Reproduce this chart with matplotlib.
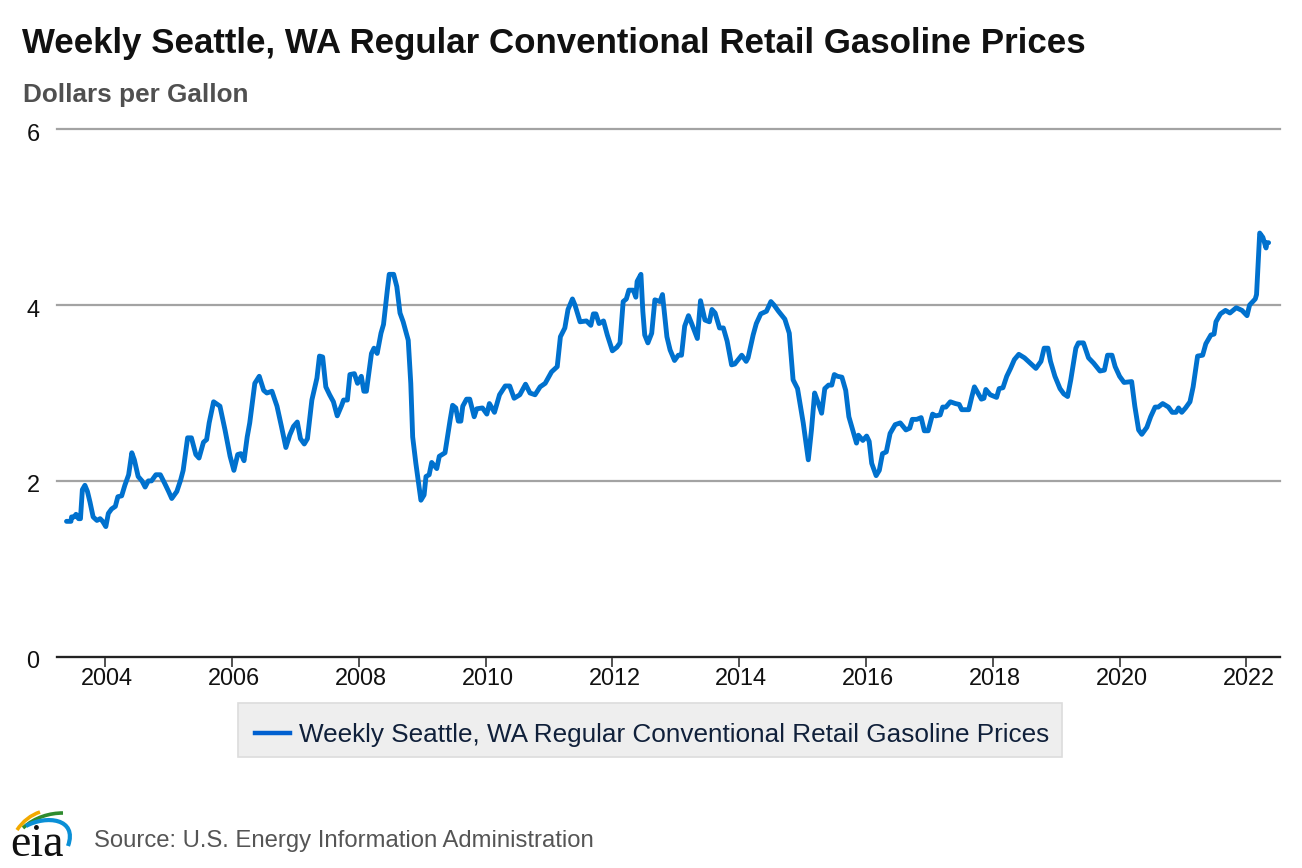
import matplotlib
matplotlib.use('Agg')
import matplotlib.pyplot as plt
from matplotlib.patches import PathPatch, Rectangle
from matplotlib.path import Path
from matplotlib.transforms import ScaledTranslation

plt.rcParams['font.family'] = ['Liberation Sans', 'DejaVu Sans']

TITLE = 'Weekly Seattle, WA Regular Conventional Retail Gasoline Prices'
UNITS = 'Dollars per Gallon'
SOURCE = 'Source: U.S. Energy Information Administration'

x_ticks = list(range(2004, 2023, 2))
y_ticks = [0, 2, 4, 6]

# decimal years
years = [
    2003.39, 2003.46, 2003.47, 2003.51, 2003.54, 2003.58, 2003.61, 2003.64, 2003.68, 2003.72,
    2003.76, 2003.81, 2003.87, 2003.92, 2003.96, 2004.01, 2004.05, 2004.10, 2004.16, 2004.20,
    2004.26, 2004.31, 2004.37, 2004.42, 2004.46, 2004.52, 2004.58, 2004.63, 2004.68, 2004.73,
    2004.80, 2004.87, 2004.94, 2005.00, 2005.05, 2005.13, 2005.19, 2005.23, 2005.30, 2005.36,
    2005.43, 2005.48, 2005.55, 2005.60, 2005.64, 2005.71, 2005.81, 2005.89, 2005.97, 2006.03,
    2006.09, 2006.14, 2006.19, 2006.24, 2006.28, 2006.36, 2006.43, 2006.50, 2006.55, 2006.63,
    2006.71, 2006.78, 2006.85, 2006.91, 2006.97, 2007.03, 2007.08, 2007.14, 2007.19, 2007.26,
    2007.34, 2007.38, 2007.43, 2007.48, 2007.54, 2007.60, 2007.66, 2007.73, 2007.76, 2007.82,
    2007.86, 2007.93, 2007.98, 2008.04, 2008.08, 2008.12, 2008.20, 2008.24, 2008.29, 2008.35,
    2008.39, 2008.45, 2008.48, 2008.55, 2008.60, 2008.65, 2008.70, 2008.78, 2008.82, 2008.85,
    2008.90, 2008.98, 2009.03, 2009.06, 2009.11, 2009.15, 2009.23, 2009.27, 2009.36, 2009.44,
    2009.48, 2009.53, 2009.57, 2009.61, 2009.64, 2009.70, 2009.75, 2009.82, 2009.86, 2009.95,
    2010.02, 2010.06, 2010.14, 2010.22, 2010.31, 2010.38, 2010.45, 2010.54, 2010.63, 2010.70,
    2010.78, 2010.86, 2010.94, 2011.04, 2011.13, 2011.18, 2011.25, 2011.30, 2011.37, 2011.41,
    2011.49, 2011.59, 2011.66, 2011.70, 2011.74, 2011.79, 2011.86, 2011.92, 2012.00, 2012.07,
    2012.12, 2012.17, 2012.22, 2012.26, 2012.33, 2012.37, 2012.39, 2012.45, 2012.48, 2012.51,
    2012.56, 2012.62, 2012.67, 2012.75, 2012.79, 2012.86, 2012.91, 2012.98, 2013.04, 2013.09,
    2013.14, 2013.20, 2013.25, 2013.34, 2013.39, 2013.46, 2013.53, 2013.57, 2013.62, 2013.69,
    2013.75, 2013.81, 2013.88, 2013.93, 2014.04, 2014.11, 2014.14, 2014.22, 2014.27, 2014.34,
    2014.43, 2014.50, 2014.55, 2014.62, 2014.72, 2014.79, 2014.85, 2014.92, 2015.01, 2015.09,
    2015.14, 2015.19, 2015.25, 2015.30, 2015.35, 2015.41, 2015.46, 2015.50, 2015.55, 2015.62,
    2015.68, 2015.73, 2015.79, 2015.85, 2015.88, 2015.95, 2016.01, 2016.05, 2016.09, 2016.16,
    2016.21, 2016.26, 2016.32, 2016.38, 2016.46, 2016.54, 2016.63, 2016.69, 2016.73, 2016.80,
    2016.87, 2016.92, 2016.98, 2017.05, 2017.10, 2017.17, 2017.21, 2017.26, 2017.33, 2017.41,
    2017.47, 2017.51, 2017.62, 2017.67, 2017.71, 2017.75, 2017.82, 2017.86, 2017.89, 2017.96,
    2018.06, 2018.10, 2018.16, 2018.22, 2018.28, 2018.34, 2018.41, 2018.50, 2018.59, 2018.68,
    2018.76, 2018.81, 2018.87, 2018.91, 2018.98, 2019.06, 2019.12, 2019.18, 2019.23, 2019.31,
    2019.35, 2019.43, 2019.51, 2019.59, 2019.69, 2019.76, 2019.81, 2019.88, 2019.93, 2020.00,
    2020.07, 2020.19, 2020.24, 2020.30, 2020.35, 2020.43, 2020.49, 2020.56, 2020.61, 2020.68,
    2020.77, 2020.83, 2020.89, 2020.93, 2020.98, 2021.04, 2021.11, 2021.16, 2021.23, 2021.31,
    2021.36, 2021.44, 2021.49, 2021.52, 2021.59, 2021.67, 2021.74, 2021.84, 2021.93, 2022.01,
    2022.05, 2022.14, 2022.16, 2022.21, 2022.26, 2022.31, 2022.32, 2022.35,
]
prices = [
    1.54, 1.54, 1.59, 1.59, 1.62, 1.57, 1.57, 1.90, 1.95, 1.88,
    1.76, 1.59, 1.55, 1.57, 1.54, 1.48, 1.63, 1.68, 1.71, 1.82,
    1.83, 1.95, 2.07, 2.32, 2.24, 2.05, 2.00, 1.93, 2.00, 2.00,
    2.07, 2.07, 1.97, 1.88, 1.80, 1.88, 2.01, 2.12, 2.49, 2.49,
    2.30, 2.26, 2.44, 2.47, 2.66, 2.90, 2.85, 2.58, 2.28, 2.12,
    2.30, 2.31, 2.23, 2.50, 2.66, 3.11, 3.19, 3.03, 3.00, 3.02,
    2.85, 2.62, 2.38, 2.52, 2.62, 2.67, 2.48, 2.42, 2.48, 2.92,
    3.17, 3.42, 3.41, 3.07, 2.98, 2.90, 2.74, 2.86, 2.92, 2.92,
    3.21, 3.22, 3.11, 3.19, 3.02, 3.02, 3.45, 3.51, 3.45, 3.68,
    3.78, 4.17, 4.35, 4.35, 4.21, 3.91, 3.81, 3.60, 3.11, 2.50,
    2.20, 1.78, 1.84, 2.05, 2.07, 2.21, 2.14, 2.28, 2.32, 2.69,
    2.86, 2.83, 2.68, 2.68, 2.85, 2.93, 2.93, 2.73, 2.82, 2.83,
    2.76, 2.88, 2.78, 2.98, 3.08, 3.08, 2.94, 2.98, 3.10, 3.00,
    2.98, 3.07, 3.11, 3.24, 3.30, 3.64, 3.74, 3.95, 4.07, 4.00,
    3.81, 3.82, 3.77, 3.90, 3.90, 3.79, 3.82, 3.66, 3.48, 3.52,
    3.57, 4.04, 4.07, 4.17, 4.17, 4.09, 4.27, 4.35, 3.93, 3.66,
    3.57, 3.68, 4.06, 4.04, 4.12, 3.64, 3.49, 3.37, 3.43, 3.43,
    3.76, 3.88, 3.79, 3.62, 4.05, 3.83, 3.81, 3.95, 3.91, 3.74,
    3.74, 3.59, 3.32, 3.33, 3.43, 3.36, 3.40, 3.66, 3.79, 3.90,
    3.93, 4.04, 4.00, 3.93, 3.84, 3.68, 3.15, 3.05, 2.66, 2.24,
    2.58, 3.00, 2.88, 2.77, 3.05, 3.09, 3.09, 3.21, 3.19, 3.18,
    3.03, 2.73, 2.58, 2.43, 2.52, 2.46, 2.51, 2.45, 2.20, 2.06,
    2.12, 2.31, 2.33, 2.54, 2.64, 2.66, 2.58, 2.60, 2.70, 2.70,
    2.72, 2.57, 2.57, 2.76, 2.74, 2.75, 2.84, 2.84, 2.90, 2.88,
    2.87, 2.81, 2.81, 2.96, 3.07, 3.02, 2.93, 2.94, 3.04, 2.98,
    2.95, 3.05, 3.06, 3.19, 3.28, 3.38, 3.44, 3.40, 3.34, 3.28,
    3.36, 3.51, 3.51, 3.36, 3.19, 3.05, 2.99, 2.96, 3.15, 3.51,
    3.57, 3.57, 3.40, 3.34, 3.25, 3.26, 3.43, 3.43, 3.30, 3.19,
    3.12, 3.13, 2.85, 2.58, 2.53, 2.61, 2.73, 2.84, 2.84, 2.88,
    2.84, 2.78, 2.78, 2.83, 2.78, 2.83, 2.90, 3.07, 3.42, 3.43,
    3.56, 3.66, 3.67, 3.81, 3.90, 3.94, 3.91, 3.97, 3.94, 3.88,
    4.00, 4.07, 4.12, 4.82, 4.77, 4.65, 4.71, 4.71,
]

W, H = 1302, 868
LINE_BLUE = '#0071ce'


def fx(px):
    return px / W


def fy(py):
    return 1 - py / H


def draw_logo(fig):
    # swooshes above the eia letters
    arcs = [
        ('#f2a900', [(17, 830), (23, 821), (31, 815), (40, 812)], 2.6),
        ('#2e8b2e', [(23, 828), (35, 817), (50, 813), (63, 813)], 2.6),
        ('#0a8fd6', [(26, 826), (46, 815), (78, 818), (68, 846)], 3.0),
    ]
    for color, pts, lw in arcs:
        path = Path([(fx(a), fy(b)) for a, b in pts], [Path.MOVETO, Path.CURVE4, Path.CURVE4, Path.CURVE4])
        fig.add_artist(PathPatch(path, fill=False, edgecolor=color, lw=lw, transform=fig.transFigure))
    fig.text(fx(37.5), fy(855.5), 'eia', family='Liberation Serif', fontsize=33, color='#111111',
             ha='center', va='baseline')


def main():
    fig = plt.figure(figsize=(W / 100, H / 100), dpi=100, facecolor='white')
    ax = fig.add_axes([fx(57), fy(656.7), fx(1280 - 57), (656.7 - 129.3) / H])

    ax.plot(years, prices, color=LINE_BLUE, lw=3.5, solid_joinstyle='round', solid_capstyle='round', zorder=3)

    ax.set_xlim(2003.24, 2022.53)
    ax.set_ylim(0, 6)
    ax.set_xticks(x_ticks)
    ax.set_yticks(y_ticks)
    ax.grid(axis='y', color='#a3a3a3', lw=1.6, clip_on=False)
    ax.set_axisbelow(True)
    for name in ['top', 'left', 'right']:
        ax.spines[name].set_visible(False)
    ax.spines['bottom'].set_color('#222222')
    ax.spines['bottom'].set_linewidth(1.6)
    ax.tick_params(axis='x', length=7.2, width=1.2, color='#333333', labelsize=16.9, pad=0.2, labelcolor='#111111')
    ax.tick_params(axis='y', length=0, labelsize=16.9, pad=12.6, labelcolor='#111111')

    # tick labels sit a little off their ticks in the original
    for label in ax.get_xticklabels():
        label.set_transform(label.get_transform() + ScaledTranslation(2 / 100, 0, fig.dpi_scale_trans))
    for label in ax.get_yticklabels():
        label.set_transform(label.get_transform() + ScaledTranslation(0, -2.5 / 100, fig.dpi_scale_trans))

    fig.text(fx(22), fy(53.3), TITLE, fontsize=25.12, fontweight='bold', color='#111111', va='baseline')
    fig.text(fx(23), fy(101.7), UNITS, fontsize=18.8, fontweight='bold', color='#505050', va='baseline')
    fig.text(fx(94), fy(847), SOURCE, fontsize=17.2, color='#555555', va='baseline')

    # legend box drawn by hand so it sits where the original does
    fig.add_artist(Rectangle((fx(238), fy(757)), (1062 - 238) / W, (757 - 703) / H, transform=fig.transFigure,
                             facecolor='#eeeeee', edgecolor='#dcdcdc', lw=1.2))
    fig.add_artist(plt.Line2D([fx(255), fx(290)], [fy(733), fy(733)], color='#0060d0', lw=3.2,
                              transform=fig.transFigure))
    fig.text(fx(299), fy(742), TITLE, fontsize=18.85, color='#10203a', va='baseline')

    draw_logo(fig)
    fig.savefig('out.png', dpi=100)


if __name__ == '__main__':
    main()
